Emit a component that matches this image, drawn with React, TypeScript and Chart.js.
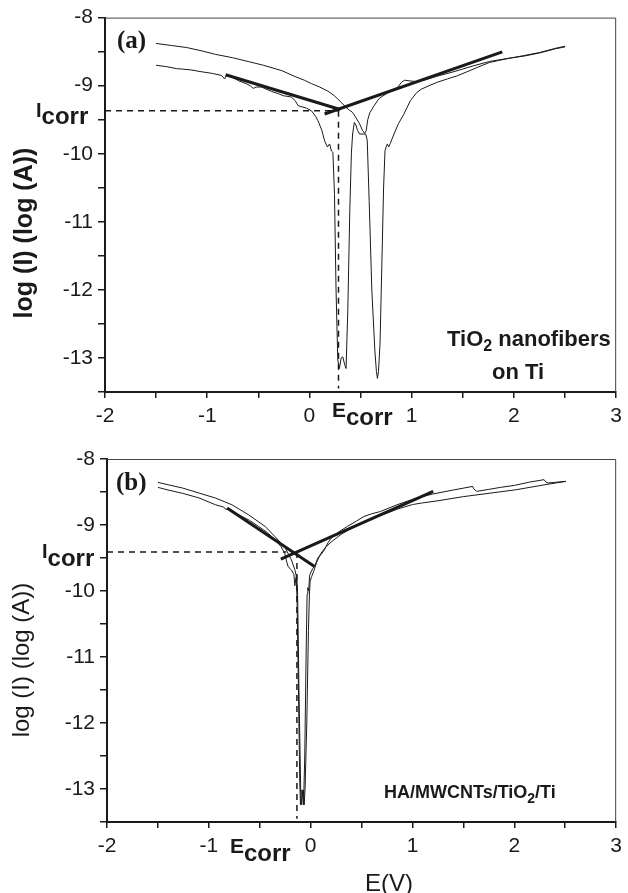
import React, { useEffect, useRef } from 'react';
import { Chart, registerables } from 'chart.js';
Chart.register(...registerables);

// ---------- data (E in V, log I) ----------
const X_RANGE = [-2, 3];
const Y_RANGE = [-13.5, -8];

// panel (a) TiO2 nanofibers on Ti
const A_UPPER: [number, number][] = [
  [-1.5, -8.38], [-1.35, -8.41], [-1.2, -8.44], [-1.05, -8.49], [-0.92, -8.54], [-0.75, -8.59],
  [-0.6, -8.645], [-0.45, -8.7], [-0.27, -8.78], [-0.15, -8.86], [-0.05, -8.92], [0.02, -8.97],
  [0.1, -9.02], [0.18, -9.08], [0.245, -9.15], [0.3, -9.23], [0.36, -9.32], [0.39, -9.36],
  [0.42, -9.39], [0.455, -9.47], [0.49, -9.56], [0.52, -9.66], [0.54, -9.7], [0.555, -9.66],
  [0.57, -9.5], [0.59, -9.4], [0.63, -9.3], [0.68, -9.19], [0.75, -9.12], [0.86, -9.03],
  [0.9, -8.95], [0.93, -8.92], [0.98, -8.93], [1.05, -8.94], [1.12, -8.92], [1.25, -8.86],
  [1.4, -8.8], [1.6, -8.71], [1.76, -8.645], [1.9, -8.61], [2.0, -8.585], [2.09, -8.56],
  [2.25, -8.513], [2.41, -8.45], [2.5, -8.42],
];
const A_LOWER: [number, number][] = [
  [-1.5, -8.7], [-1.4, -8.72], [-1.3, -8.75], [-1.24, -8.757], [-1.15, -8.77], [-1.08, -8.79],
  [-0.95, -8.82], [-0.86, -8.85], [-0.83, -8.9], [-0.81, -8.84], [-0.75, -8.88], [-0.69, -8.93],
  [-0.62, -8.97], [-0.58, -9.0], [-0.55, -9.04], [-0.52, -9.02], [-0.47, -9.02], [-0.37, -9.085],
  [-0.3, -9.12], [-0.256, -9.148], [-0.2, -9.16], [-0.175, -9.17], [-0.14, -9.22], [-0.11, -9.295],
  [-0.03, -9.33], [0.02, -9.37], [0.06, -9.45], [0.083, -9.515], [0.12, -9.65], [0.148, -9.81],
  [0.175, -9.9], [0.197, -9.856], [0.215, -9.96], [0.229, -9.98], [0.245, -10.6], [0.26, -12.0],
  [0.277, -13.03], [0.293, -13.155], [0.31, -13.0], [0.326, -12.985], [0.345, -13.1], [0.358, -13.155],
  [0.375, -12.3], [0.395, -10.8], [0.41, -10.0], [0.422, -9.71], [0.439, -9.54], [0.455, -9.58],
  [0.471, -9.66], [0.49, -9.71], [0.55, -9.71], [0.565, -9.8], [0.584, -10.69], [0.61, -12.0],
  [0.64, -12.9], [0.655, -13.2], [0.665, -13.3], [0.675, -13.2], [0.69, -12.8], [0.71, -11.5],
  [0.725, -10.5], [0.739, -9.955], [0.75, -9.9], [0.762, -9.856], [0.775, -9.9], [0.79, -9.85],
  [0.827, -9.71], [0.87, -9.56], [0.923, -9.42], [0.987, -9.22], [1.05, -9.1], [1.096, -9.05],
  [1.17, -9.0], [1.25, -8.95], [1.35, -8.9], [1.446, -8.855], [1.55, -8.79], [1.64, -8.733],
  [1.76, -8.66], [1.85, -8.63], [1.957, -8.596], [2.1, -8.565], [2.25, -8.52], [2.4, -8.46], [2.5, -8.43],
];
const A_TAFEL_CATHODIC: [number, number][] = [[-0.82, -8.84], [0.3, -9.35]];
const A_TAFEL_ANODIC: [number, number][] = [[0.148, -9.416], [1.886, -8.503]];
const A_ICORR = -9.37;
const A_ECORR = 0.284;
const A_ICORR_END = 0.29;

// panel (b) HA/MWCNTs/TiO2/Ti
const B_UPPER: [number, number][] = [
  [-1.5, -8.354], [-1.4, -8.39], [-1.258, -8.44], [-1.096, -8.516], [-0.934, -8.592], [-0.773, -8.694],
  [-0.61, -8.845], [-0.448, -9.02], [-0.351, -9.175], [-0.254, -9.335], [-0.189, -9.528], [-0.155, -9.68],
  [-0.14, -9.78], [-0.133, -10.2], [-0.12, -11.5], [-0.107, -12.9], [-0.1, -13.24], [-0.092, -13.02],
  [-0.072, -13.02], [-0.064, -13.24], [-0.055, -13.0], [-0.038, -12.0], [-0.022, -10.6], [-0.012, -10.05],
  [-0.005, -9.85], [0.01, -9.78], [0.03, -9.7], [0.06, -9.56], [0.1, -9.43], [0.15, -9.33], [0.2, -9.26],
  [0.3, -9.14], [0.4, -9.05], [0.55, -8.94], [0.7, -8.85], [0.85, -8.76], [1.0, -8.69], [1.1, -8.665],
  [1.241, -8.635], [1.5, -8.57], [1.8, -8.51], [2.02, -8.465], [2.3, -8.39], [2.507, -8.339],
];
const B_LOWER: [number, number][] = [
  [-1.5, -8.43], [-1.4, -8.47], [-1.258, -8.52], [-1.096, -8.59], [-0.934, -8.694], [-0.86, -8.725],
  [-0.83, -8.765], [-0.8, -8.75], [-0.707, -8.845], [-0.6, -8.93], [-0.513, -9.02], [-0.43, -9.11],
  [-0.351, -9.22], [-0.29, -9.33], [-0.254, -9.43], [-0.235, -9.56], [-0.222, -9.63], [-0.189, -9.68],
  [-0.165, -9.75], [-0.155, -9.92], [-0.145, -9.8], [-0.137, -9.76], [-0.128, -10.05], [-0.115, -11.5],
  [-0.098, -13.0], [-0.088, -13.24], [-0.078, -13.02], [-0.07, -13.24], [-0.058, -12.5], [-0.045, -11.0],
  [-0.035, -10.05], [-0.028, -9.95], [-0.02, -10.0], [-0.01, -9.76], [0.02, -9.66], [0.038, -9.63],
  [0.07, -9.5], [0.1, -9.45], [0.135, -9.376], [0.17, -9.27], [0.2, -9.2], [0.28, -9.1], [0.362, -9.02],
  [0.45, -8.94], [0.524, -8.87], [0.6, -8.83], [0.685, -8.795], [0.847, -8.694], [1.042, -8.59],
  [1.2, -8.53], [1.4, -8.47], [1.592, -8.415], [1.6, -8.45], [1.631, -8.49], [1.75, -8.46],
  [1.864, -8.43], [2.0, -8.4], [2.15, -8.35], [2.292, -8.313], [2.31, -8.35], [2.331, -8.364],
  [2.42, -8.35], [2.507, -8.339],
];
const B_TAFEL_CATHODIC: [number, number][] = [[-0.821, -8.744], [0.038, -9.63]];
const B_TAFEL_ANODIC: [number, number][] = [[-0.293, -9.518], [1.203, -8.49]];
const B_ICORR = -9.41;
const B_ECORR = -0.135;
const B_ICORR_END = -0.24;

const DASH_BOTTOM = -13.45;

// ---------- helpers ----------
const SANS = '"Liberation Sans", Arial, sans-serif';
const SERIF = '"Liberation Serif", "Times New Roman", serif';
const INK = '#1a1a1a';

const pts = (arr: [number, number][]) => arr.map(([x, y]) => ({ x, y }));

function line(data: [number, number][], width: number, dash: number[] = []) {
  return {
    data: pts(data),
    borderColor: INK,
    borderWidth: width,
    borderDash: dash,
    pointRadius: 0,
    tension: 0,
    fill: false,
  };
}

function sub(ctx: CanvasRenderingContext2D, parts: [string, string, number][], x: number, y: number) {
  let cx = x;
  for (const [text, font, dy] of parts) {
    ctx.font = font;
    ctx.fillText(text, cx, y + dy);
    cx += ctx.measureText(text).width;
  }
}

type PanelSpec = {
  top: number;
  height: number;
  padTop: number;
  yWidth: number;
  xHeight: number;
  datasets: any[];
  draw: (ctx: CanvasRenderingContext2D) => void;
};

const tickFont = { family: SANS, size: 21 };
const intLabel = (v: any) => (Math.abs(v - Math.round(v)) < 1e-9 ? String(Math.round(v)) : '');

function makeChart(canvas: HTMLCanvasElement, p: PanelSpec) {
  const frame = {
    id: 'frame',
    afterDatasetsDraw(chart: any) {
      const { ctx, chartArea: a } = chart;
      ctx.save();
      ctx.strokeStyle = '#444';
      ctx.lineWidth = 1;
      ctx.beginPath();
      ctx.moveTo(a.left, a.top + 0.5);
      ctx.lineTo(a.right - 0.5, a.top + 0.5);
      ctx.lineTo(a.right - 0.5, a.bottom);
      ctx.stroke();
      ctx.restore();
    },
  };
  const texts = {
    id: 'texts',
    afterDraw(chart: any) {
      const ctx = chart.ctx as CanvasRenderingContext2D;
      ctx.save();
      ctx.fillStyle = INK;
      ctx.textAlign = 'left';
      ctx.textBaseline = 'alphabetic';
      p.draw(ctx);
      ctx.restore();
    },
  };
  return new Chart(canvas, {
    type: 'line',
    data: { datasets: p.datasets },
    plugins: [frame, texts],
    options: {
      animation: false,
      responsive: false,
      events: [],
      layout: { padding: { top: p.padTop, right: 7, left: 0, bottom: 0 } },
      plugins: { legend: { display: false }, tooltip: { enabled: false } },
      scales: {
        x: {
          type: 'linear',
          min: X_RANGE[0],
          max: X_RANGE[1],
          afterFit: (s: any) => { s.height = p.xHeight; },
          ticks: { stepSize: 0.5, autoSkip: false, maxRotation: 0, font: tickFont, color: INK, padding: 6, callback: intLabel },
          grid: { drawOnChartArea: false, drawTicks: true, tickLength: 6, color: INK, lineWidth: 1.5 },
          border: { display: true, color: INK, width: 2 },
        },
        y: {
          type: 'linear',
          min: Y_RANGE[0],
          max: Y_RANGE[1],
          afterFit: (s: any) => { s.width = p.yWidth; },
          ticks: { stepSize: 0.5, autoSkip: false, font: tickFont, color: INK, padding: 5, callback: intLabel },
          grid: { drawOnChartArea: false, drawTicks: true, tickLength: 7, color: INK, lineWidth: 1.5 },
          border: { display: true, color: INK, width: 2 },
        },
      },
    } as any,
  });
}

const PANEL_A: PanelSpec = {
  top: 0,
  height: 440,
  padTop: 17,
  yWidth: 105,
  xHeight: 48,
  datasets: [
    line(A_UPPER, 1),
    line(A_LOWER, 1),
    line([[X_RANGE[0], A_ICORR], [A_ICORR_END, A_ICORR]], 1.5, [6, 5]),
    line([[A_ECORR, A_ICORR], [A_ECORR, DASH_BOTTOM]], 1.5, [6, 5]),
    line(A_TAFEL_CATHODIC, 3),
    line(A_TAFEL_ANODIC, 3),
  ],
  draw: (ctx) => {
    ctx.save();
    ctx.translate(25, 233);
    ctx.rotate(-Math.PI / 2);
    ctx.textAlign = 'center';
    ctx.textBaseline = 'middle';
    ctx.font = `bold 25px ${SANS}`;
    ctx.fillText('log (I) (log (A))', 0, 0);
    ctx.restore();
    ctx.font = `bold 25px ${SERIF}`;
    ctx.fillText('(a)', 117, 48);
    sub(ctx, [['I', `bold 20px ${SANS}`, 0], ['corr', `bold 24px ${SANS}`, 7]], 36, 117);
    sub(ctx, [['E', `bold 21px ${SANS}`, 0], ['corr', `bold 24px ${SANS}`, 8]], 332, 417);
    sub(ctx, [['TiO', `bold 22px ${SANS}`, 0], ['2', `bold 16px ${SANS}`, 5], [' nanofibers', `bold 22px ${SANS}`, 0]], 447, 346);
    ctx.font = `bold 22px ${SANS}`;
    ctx.fillText('on Ti', 492, 379);
  },
};

const PANEL_B: PanelSpec = {
  top: 440,
  height: 453,
  padTop: 19,
  yWidth: 107,
  xHeight: 71,
  datasets: [
    line(B_UPPER, 1),
    line(B_LOWER, 1),
    line([[X_RANGE[0], B_ICORR], [B_ICORR_END, B_ICORR]], 1.5, [6, 5]),
    line([[B_ECORR, B_ICORR], [B_ECORR, DASH_BOTTOM]], 1.5, [6, 5]),
    line(B_TAFEL_CATHODIC, 3),
    line(B_TAFEL_ANODIC, 3),
  ],
  draw: (ctx) => {
    ctx.save();
    ctx.translate(22, 220);
    ctx.rotate(-Math.PI / 2);
    ctx.textAlign = 'center';
    ctx.textBaseline = 'middle';
    ctx.font = `24px ${SANS}`;
    ctx.fillText('log (I) (log (A))', 0, 0);
    ctx.restore();
    ctx.font = `bold 25px ${SERIF}`;
    ctx.fillText('(b)', 116, 50);
    sub(ctx, [['I', `bold 20px ${SANS}`, 0], ['corr', `bold 24px ${SANS}`, 8]], 42, 118);
    sub(ctx, [['E', `bold 21px ${SANS}`, 0], ['corr', `bold 24px ${SANS}`, 8]], 230, 413);
    sub(ctx, [['HA/MWCNTs/TiO', `bold 18px ${SANS}`, 0], ['2', `bold 14px ${SANS}`, 5], ['/Ti', `bold 18px ${SANS}`, 0]], 384, 358);
    ctx.textAlign = 'center';
    ctx.font = `24px ${SANS}`;
    ctx.fillText('E(V)', 389, 451);
  },
};

function Panel({ spec }: { spec: PanelSpec }) {
  const ref = useRef<HTMLCanvasElement>(null);
  useEffect(() => {
    if (!ref.current) return;
    const chart = makeChart(ref.current, spec);
    return () => chart.destroy();
  }, [spec]);
  return (
    <canvas
      ref={ref}
      width={628}
      height={spec.height}
      style={{ position: 'absolute', left: 0, top: spec.top, width: 628, height: spec.height }}
    />
  );
}

export default function App() {
  return (
    <div style={{ position: 'absolute', left: 0, top: 0, width: 628, height: 893, background: '#fff' }}>
      <Panel spec={PANEL_A} />
      <Panel spec={PANEL_B} />
    </div>
  );
}
